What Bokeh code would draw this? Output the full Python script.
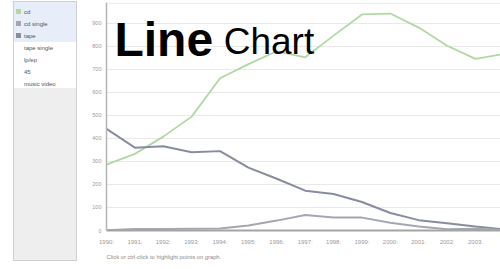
from bokeh.plotting import figure
from bokeh.models import Div, Label, FixedTicker, Range1d, Span, Title
from bokeh.layouts import row
from bokeh.embed import file_html
from bokeh.resources import INLINE

years = list(range(1990, 2005))
cd = [286, 333, 408, 495, 662, 723, 779, 753, 847, 939, 943, 882, 803, 746, 767]
cd_single = [1, 6, 7, 8, 9, 22, 43, 67, 56, 56, 34, 17, 5, 8, 3]
tape = [442, 360, 366, 340, 345, 273, 225, 173, 159, 124, 76, 45, 31, 17, 5]
legend_items = ["cd", "cd single", "tape", "tape single", "lp/ep", "45", "music video"]
highlighted = {"cd": "#b0d8a4", "cd single": "#a3a7b0", "tape": "#878ca0"}
y_ticks = list(range(0, 1000, 100))

FONT = "Liberation Sans"

# ---- legend panel (HTML) ----
items_html = ""
for i, name in enumerate(legend_items):
    top = 5 + 12 * i
    sw = ""
    if name in highlighted:
        sw = (f'<div style="position:absolute;left:2px;top:{top+2}px;width:5px;height:5px;'
              f'background:{highlighted[name]};"></div>')
    items_html += sw + (f'<div style="position:absolute;left:10px;top:{top}px;height:10px;'
                        f'line-height:10px;font-size:6px;color:#555;white-space:nowrap;">{name}</div>')

panel_html = (
    f'<div style="position:relative;width:80px;height:264px;font-family:\'{FONT}\';">'
    '<div style="position:absolute;left:13px;top:1px;width:64px;height:260px;'
    'border:1px solid #cfcfcf;background:#eeeeee;overflow:hidden;">'
    '<div style="position:absolute;left:0;top:0;width:64px;height:40px;background:#e7eef9;"></div>'
    '<div style="position:absolute;left:0;top:40px;width:64px;height:46px;background:#ffffff;"></div>'
    + items_html +
    '</div></div>'
)
panel = Div(text=panel_html, width=80, height=264, styles={"margin": "0", "padding": "0"})

# ---- chart ----
p = figure(width=420, height=266, x_range=Range1d(1990, 2003.88), y_range=Range1d(0, 991),
           output_backend="svg", toolbar_location=None,
           min_border_left=26, min_border_right=0, min_border_top=2, min_border_bottom=36)
p.outline_line_color = None
p.background_fill_color = "white"
p.border_fill_color = "white"

p.add_layout(Span(location=987, dimension="width", line_color="#e9e9e9", line_width=1))

p.line(years, cd, line_color=highlighted["cd"], line_width=1.8)
p.line(years, tape, line_color=highlighted["tape"], line_width=2)
p.line(years, cd_single, line_color=highlighted["cd single"], line_width=2)

p.xaxis.ticker = FixedTicker(ticks=years)
p.xaxis.major_label_overrides = {y: f"{y}:" for y in years}
p.yaxis.ticker = FixedTicker(ticks=y_ticks)
for ax in (p.xaxis[0], p.yaxis[0]):
    ax.major_tick_line_color = None
    ax.minor_tick_line_color = None
    ax.major_tick_out = 0
    ax.major_tick_in = 0
    ax.minor_tick_out = 0
    ax.minor_tick_in = 0
    ax.major_label_text_font = FONT
    ax.major_label_text_color = "#9a9a9a"
p.xaxis.major_label_text_font_size = "6px"
p.yaxis.major_label_text_font_size = "5.5px"
p.xaxis.major_label_standoff = 8
p.yaxis.major_label_standoff = 5
p.xaxis.axis_line_color = "#a4a4a4"
p.xaxis.axis_line_width = 2
p.yaxis.axis_line_color = "#b4b4b4"
p.yaxis.axis_line_width = 1.5
p.xgrid.grid_line_color = None
p.ygrid.grid_line_color = "#e9e9e9"

p.add_layout(Label(x=1990.28, y=830, text="Line",
                   text_font=FONT, text_font_size="48px", text_font_style="bold",
                   text_color="black", text_baseline="alphabetic"))
p.add_layout(Label(x=1994.13, y=823, text="Chart",
                   text_font=FONT, text_font_size="37px", text_color="black",
                   text_baseline="alphabetic"))
p.add_layout(Title(text="Click or ctrl-click to highlight points on graph.",
                   align="left", text_font=FONT, text_font_size="5.8px",
                   text_font_style="normal", text_color="#8a8a8a", standoff=9), "below")

layout = row(panel, p, spacing=0)
open("out.html", "w").write(file_html(layout, INLINE))
